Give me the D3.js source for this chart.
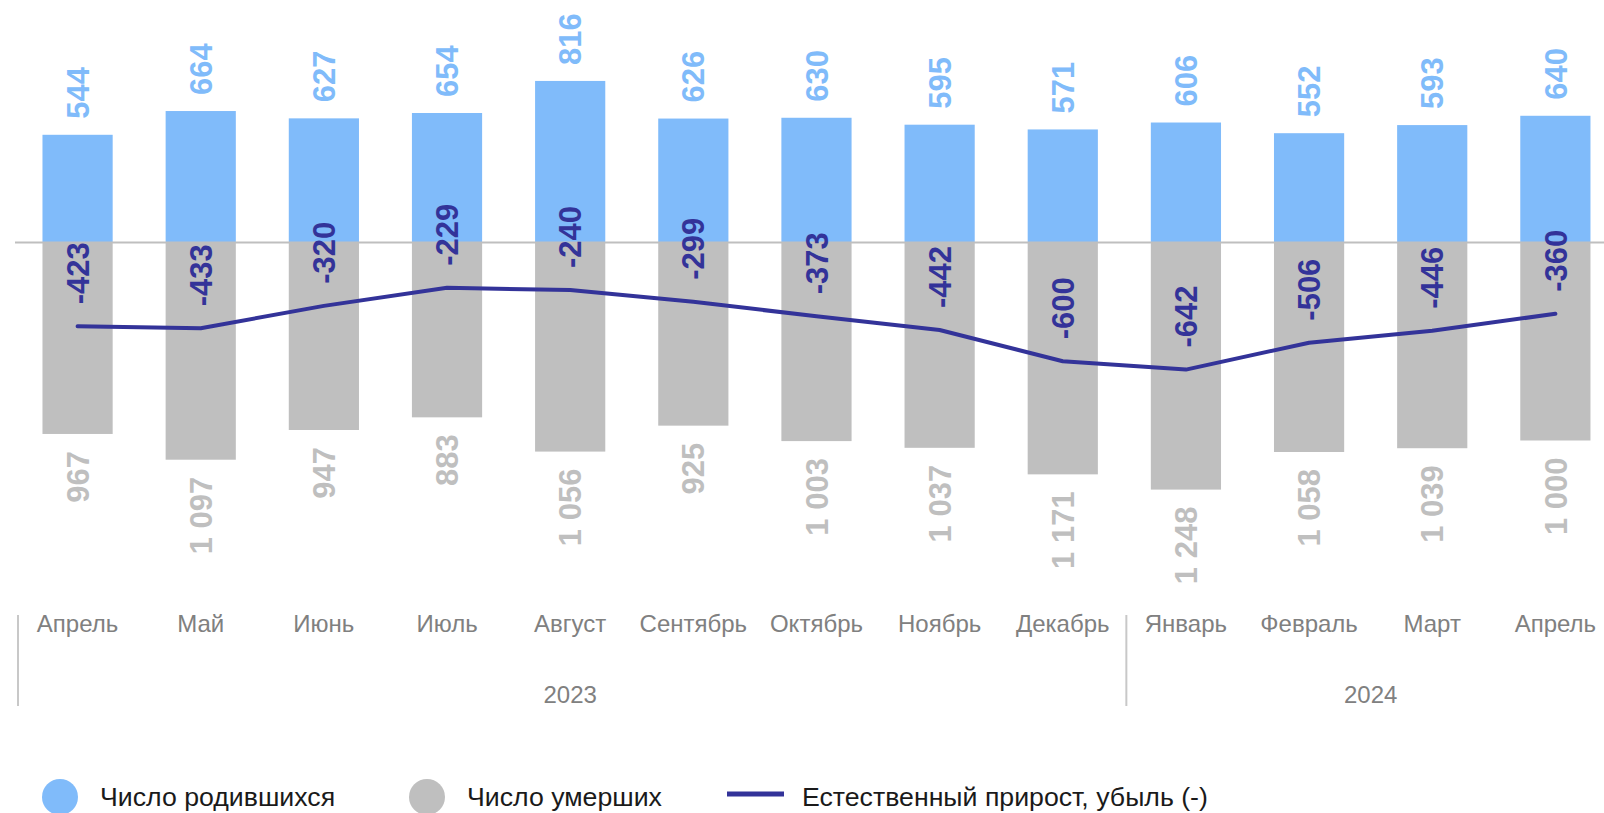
<!DOCTYPE html>
<html>
<head>
<meta charset="utf-8">
<script src="https://cdnjs.cloudflare.com/ajax/libs/d3/7.8.5/d3.min.js"></script>
<style>
  body { margin: 0; background: #fff; }
  svg { display: block; font-family: "Liberation Sans", Arial, sans-serif; }
  .month, .year { fill: #808080; font-size: 24px; }
  .legend text { fill: #1a1a1a; font-size: 26.7px; }
</style>
</head>
<body>
<div id="chart"></div>
<script>
var width = 1604,
    height = 813;

// data
var months = ["Апрель", "Май", "Июнь", "Июль", "Август", "Сентябрь", "Октябрь",
              "Ноябрь", "Декабрь", "Январь", "Февраль", "Март", "Апрель"];
var births = [544, 664, 627, 654, 816, 626, 630, 595, 571, 606, 552, 593, 640];
var deaths = [967, 1097, 947, 883, 1056, 925, 1003, 1037, 1171, 1248, 1058, 1039, 1000];
var netChange = [-423, -433, -320, -229, -240, -299, -373, -442, -600, -642, -506, -446, -360];
var years = ["2023", "2024"];
var yearStart = [0, 9];   // first month index of each year
var yearEnd = [8, 12];    // last month index of each year
var legendLabels = ["Число родившихся", "Число умерших", "Естественный прирост, убыль (-)"];

var colBirth = "#80bbfa",
    colDeath = "#bfbfbf",
    colNet = "#333399";

var idx = d3.range(months.length);
var step = 123.15, x0 = 16;

var x = d3.scaleBand()
    .domain(idx)
    .range([x0, x0 + step * months.length])
    .paddingInner(0.43)
    .paddingOuter(0.215);

var y = d3.scaleLinear()
    .domain([-1000, 1000])
    .range([440.5, 44.5]);

var fmt = d3.formatLocale({ decimal: ",", thousands: " ", grouping: [3], currency: ["", ""], minus: "-" }).format(",");

var svg = d3.select("#chart").append("svg")
    .attr("width", width)
    .attr("height", height);

function cx(i) { return x(i) + x.bandwidth() / 2; }

// births bars
svg.selectAll(".birth")
    .data(idx)
  .enter().append("rect")
    .attr("class", "birth")
    .attr("x", function(i) { return x(i); })
    .attr("width", x.bandwidth())
    .attr("y", function(i) { return y(births[i]); })
    .attr("height", function(i) { return y(0) - y(births[i]); })
    .attr("fill", colBirth);

// deaths bars (drawn downward)
svg.selectAll(".death")
    .data(idx)
  .enter().append("rect")
    .attr("class", "death")
    .attr("x", function(i) { return x(i); })
    .attr("width", x.bandwidth())
    .attr("y", y(0))
    .attr("height", function(i) { return y(-deaths[i]) - y(0); })
    .attr("fill", colDeath);

// zero line
svg.append("line")
    .attr("x1", 15).attr("x2", width)
    .attr("y1", y(0)).attr("y2", y(0))
    .attr("stroke", "#bfbfbf")
    .attr("stroke-width", 2);

// natural change line
var line = d3.line()
    .x(function(i) { return cx(i); })
    .y(function(i) { return y(netChange[i]); });

svg.append("path")
    .datum(idx)
    .attr("d", line)
    .attr("fill", "none")
    .attr("stroke", colNet)
    .attr("stroke-width", 4)
    .attr("stroke-linecap", "round")
    .attr("stroke-linejoin", "round");

// value labels
function vlabel(cls, color, anchor, yfn, textfn) {
  svg.selectAll("." + cls)
      .data(idx)
    .enter().append("text")
      .attr("class", cls)
      .attr("transform", function(i) { return "translate(" + cx(i) + "," + yfn(i) + ") rotate(-90)"; })
      .attr("dy", "0.36em")
      .attr("text-anchor", anchor)
      .attr("fill", color)
      .style("font-size", "31px")
      .style("font-weight", "bold")
      .text(textfn);
}

vlabel("lb", colBirth, "start", function(i) { return y(births[i]) - 16; }, function(i) { return fmt(births[i]); });
vlabel("ld", colDeath, "end", function(i) { return y(-deaths[i]) + 17; }, function(i) { return fmt(deaths[i]); });
vlabel("ln", colNet, "start", function(i) { return y(netChange[i]) - 22; }, function(i) { return fmt(netChange[i]); });

// month axis
svg.selectAll(".month")
    .data(idx)
  .enter().append("text")
    .attr("class", "month")
    .attr("x", function(i) { return cx(i); })
    .attr("y", 624)
    .attr("dy", "0.35em")
    .attr("text-anchor", "middle")
    .text(function(i) { return months[i]; });

// year groups
years.forEach(function(yr, k) {
  var left = x(yearStart[k]) - x.step() * x.paddingInner() / 2;
  var right = x(yearEnd[k]) + x.bandwidth() + x.step() * x.paddingInner() / 2;
  svg.append("text")
      .attr("class", "year")
      .attr("x", (left + right) / 2)
      .attr("y", 695)
      .attr("dy", "0.35em")
      .attr("text-anchor", "middle")
      .text(yr);
  svg.append("line")
      .attr("x1", left + 2).attr("x2", left + 2)
      .attr("y1", 615).attr("y2", 706)
      .attr("stroke", "#c8c8c8")
      .attr("stroke-width", 2);
});

// legend
var legend = svg.append("g").attr("class", "legend");
var lg = [
  { x: 60, type: "circle", color: colBirth, tx: 100 },
  { x: 427, type: "circle", color: colDeath, tx: 467 },
  { x: 727, type: "line", color: colNet, tx: 802 }
];
lg.forEach(function(d, k) {
  if (d.type === "circle") {
    legend.append("circle")
        .attr("cx", d.x).attr("cy", 797)
        .attr("r", 18)
        .attr("fill", d.color);
  } else {
    legend.append("line")
        .attr("x1", d.x).attr("x2", d.x + 57)
        .attr("y1", 794).attr("y2", 794)
        .attr("stroke", d.color)
        .attr("stroke-width", 5);
  }
  legend.append("text")
      .attr("x", d.tx)
      .attr("y", 797)
      .attr("dy", "0.35em")
      .text(legendLabels[k]);
});
</script>
</body>
</html>
